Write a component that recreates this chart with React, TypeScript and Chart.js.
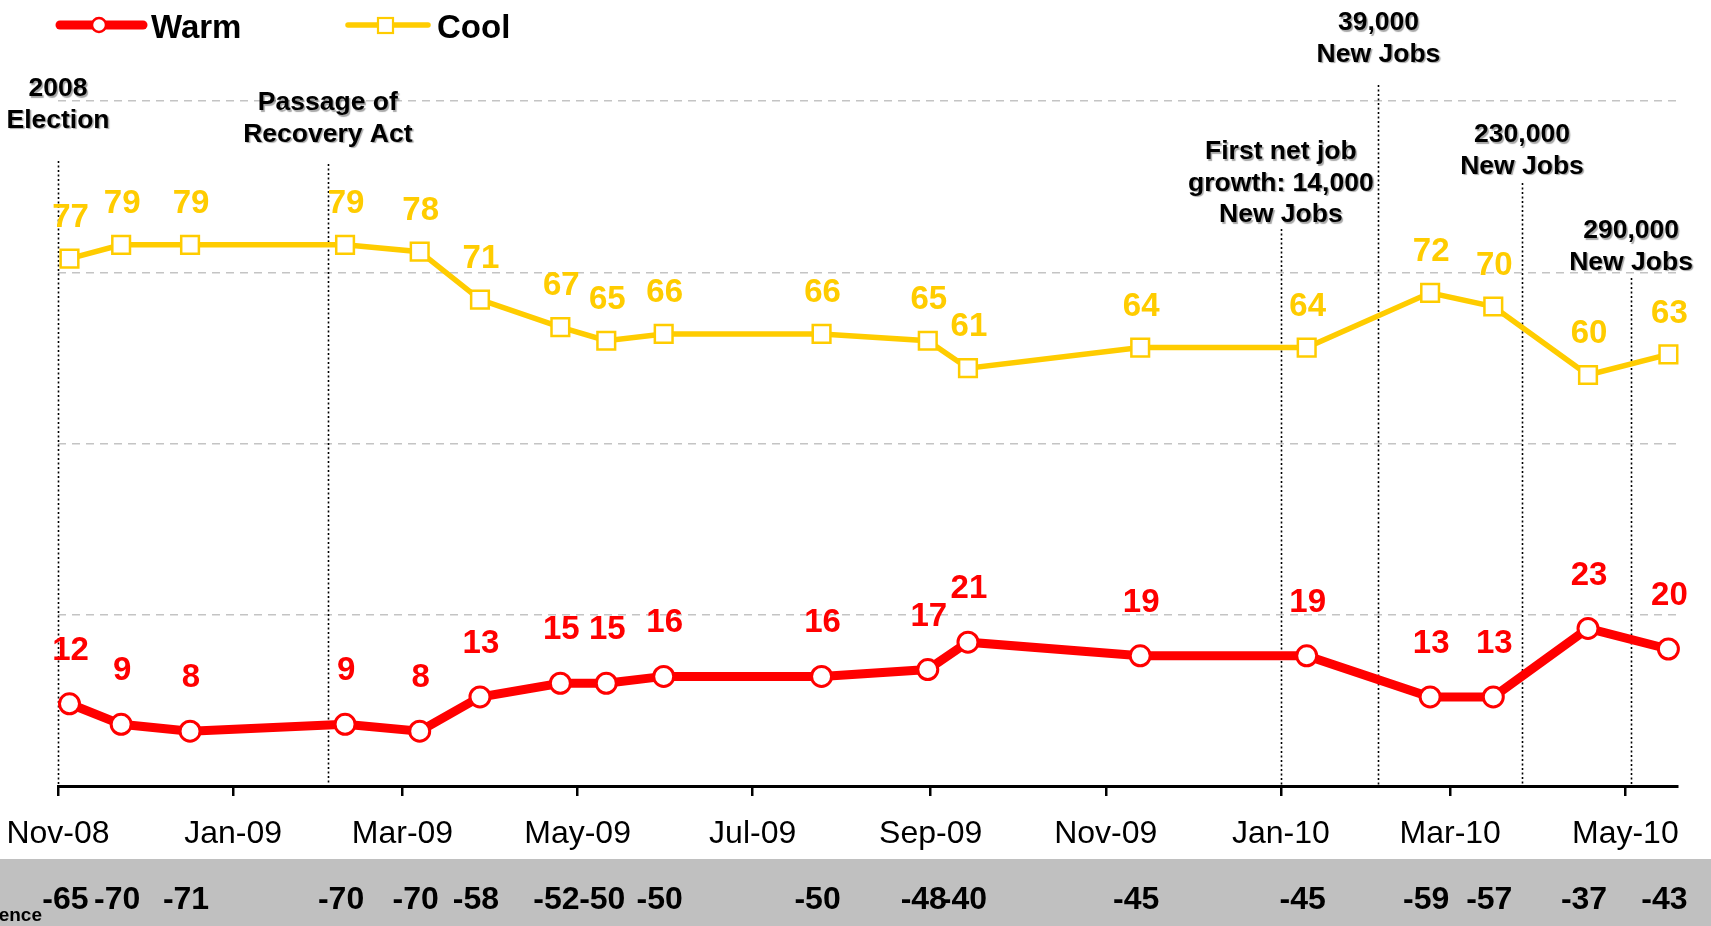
import React, { useEffect, useRef } from "react";
import { Chart, registerables } from "chart.js";

Chart.register(...registerables);

// ---------- data ----------
const POLL_DATES = [
  "2008-11-05", "2008-11-23", "2008-12-17", "2009-02-09", "2009-03-07", "2009-03-28",
  "2009-04-25", "2009-05-11", "2009-05-31", "2009-07-25", "2009-08-31", "2009-09-14",
  "2009-11-13", "2010-01-10", "2010-02-22", "2010-03-16", "2010-04-18", "2010-05-16",
];
const WARM = [12, 9, 8, 9, 8, 13, 15, 15, 16, 16, 17, 21, 19, 19, 13, 13, 23, 20];
const COOL = [77, 79, 79, 79, 78, 71, 67, 65, 66, 66, 65, 61, 64, 64, 72, 70, 60, 63];
const NET = [-65, -70, -71, -70, -70, -58, -52, -50, -50, -50, -48, -40, -45, -45, -59, -57, -37, -43];

const TICK_DATES = [
  "2008-11-01", "2009-01-01", "2009-03-01", "2009-05-01", "2009-07-01",
  "2009-09-01", "2009-11-01", "2010-01-01", "2010-03-01", "2010-05-01",
];
const TICK_LABELS = ["Nov-08", "Jan-09", "Mar-09", "May-09", "Jul-09", "Sep-09", "Nov-09", "Jan-10", "Mar-10", "May-10"];
const AXIS_START = "2008-11-01";
const AXIS_END = "2010-05-19";

const EVENT_DATES = ["2008-11-01", "2009-02-03", "2010-01-01", "2010-02-04", "2010-03-26", "2010-05-03"];
const EVENT_TEXTS = [
  ["2008", "Election"],
  ["Passage of", "Recovery Act"],
  ["First net job", "growth: 14,000", "New Jobs"],
  ["39,000", "New Jobs"],
  ["230,000", "New Jobs"],
  ["290,000", "New Jobs"],
];
const NET_LABEL = "Difference";

// ---------- layout / style (pixels) ----------
const W = 1711;
const H = 926;
const FONT = "'Liberation Sans', Arial, Helvetica, sans-serif";
const RED = "#ff0000";
const GOLD = "#ffcc00";
const EVENT_TEXT_Y = [89, 103, 152, 23, 135, 231];
const EVENT_LINE_TOP = [161, 164, 229, 85, 183, 278];
const EVENT_LINE_H = 31.5;
const LABEL_OFFSET = [53, 41];
const BAND_TOP = 859;
const NET_Y = 900;

const dayNum = (s: string) => {
  const [y, m, d] = s.split("-").map(Number);
  return Date.UTC(y, m - 1, d) / 86400000;
};

const bandPlugin = {
  id: "band",
  beforeDraw(chart: any) {
    const ctx = chart.ctx;
    ctx.save();
    ctx.fillStyle = "#ffffff";
    ctx.fillRect(0, 0, W, H);
    ctx.fillStyle = "#c0c0c0";
    ctx.fillRect(0, BAND_TOP, W, H - BAND_TOP);
    ctx.restore();
  },
};

const eventPlugin = {
  id: "events",
  beforeDatasetsDraw(chart: any) {
    const ctx = chart.ctx;
    const xs = chart.scales.x;
    const bottom = chart.chartArea.bottom;
    ctx.save();
    ctx.strokeStyle = "#000";
    ctx.lineWidth = 1.6;
    ctx.setLineDash([2, 2.5]);
    EVENT_DATES.forEach((d, i) => {
      const x = Math.round(xs.getPixelForValue(dayNum(d))) + 0.5;
      ctx.beginPath();
      ctx.moveTo(x, EVENT_LINE_TOP[i]);
      ctx.lineTo(x, bottom);
      ctx.stroke();
    });
    ctx.restore();
  },
  afterDraw(chart: any) {
    const ctx = chart.ctx;
    const xs = chart.scales.x;
    ctx.save();
    ctx.font = `bold 26.5px ${FONT}`;
    ctx.textAlign = "center";
    ctx.textBaseline = "middle";
    ctx.fillStyle = "#000";
    ctx.shadowColor = "rgba(0,0,0,0.35)";
    ctx.shadowOffsetX = 1.5;
    ctx.shadowOffsetY = 1.5;
    ctx.shadowBlur = 1;
    EVENT_TEXTS.forEach((lines, i) => {
      const x = xs.getPixelForValue(dayNum(EVENT_DATES[i]));
      lines.forEach((t, j) => ctx.fillText(t, x, EVENT_TEXT_Y[i] + j * EVENT_LINE_H));
    });
    ctx.restore();
  },
};

const labelPlugin = {
  id: "pointLabels",
  afterDatasetsDraw(chart: any) {
    const ctx = chart.ctx;
    chart.data.datasets.forEach((ds: any, di: number) => {
      const meta = chart.getDatasetMeta(di);
      ctx.save();
      ctx.font = `bold 33px ${FONT}`;
      ctx.fillStyle = ds.borderColor;
      ctx.textAlign = "center";
      ctx.textBaseline = "middle";
      meta.data.forEach((pt: any, i: number) => {
        ctx.fillText(String(ds.data[i].y), pt.x + 1, pt.y - LABEL_OFFSET[di]);
      });
      ctx.restore();
    });
  },
};

const netPlugin = {
  id: "net",
  afterDraw(chart: any) {
    const ctx = chart.ctx;
    const xs = chart.scales.x;
    ctx.save();
    ctx.fillStyle = "#000";
    ctx.font = `bold 32px ${FONT}`;
    ctx.textAlign = "center";
    ctx.textBaseline = "middle";
    NET.forEach((v, i) => {
      const x = xs.getPixelForValue(dayNum(POLL_DATES[i]));
      ctx.fillText(String(v), x - 4, NET_Y);
    });
    ctx.font = `bold 19px ${FONT}`;
    ctx.textAlign = "right";
    ctx.fillText(NET_LABEL, 42, 916);
    ctx.restore();
  },
};

const legendPlugin = {
  id: "customLegend",
  afterDraw(chart: any) {
    const ctx = chart.ctx;
    ctx.save();
    // Warm
    ctx.strokeStyle = RED;
    ctx.lineWidth = 9;
    ctx.lineCap = "round";
    ctx.beginPath();
    ctx.moveTo(60, 25);
    ctx.lineTo(143, 25);
    ctx.stroke();
    ctx.beginPath();
    ctx.arc(99, 25, 7, 0, Math.PI * 2);
    ctx.fillStyle = "#fff";
    ctx.fill();
    ctx.lineWidth = 2.5;
    ctx.stroke();
    // Cool
    ctx.strokeStyle = GOLD;
    ctx.lineWidth = 5.5;
    ctx.beginPath();
    ctx.moveTo(348, 25);
    ctx.lineTo(428, 25);
    ctx.stroke();
    ctx.fillStyle = "#fff";
    ctx.fillRect(378, 18, 15, 15);
    ctx.lineWidth = 2.2;
    ctx.lineCap = "butt";
    ctx.strokeRect(378, 18, 15, 15);
    // texts
    ctx.fillStyle = "#000";
    ctx.font = `bold 33px ${FONT}`;
    ctx.textAlign = "left";
    ctx.textBaseline = "middle";
    ctx.fillText("Warm", 151, 29);
    ctx.fillText("Cool", 437, 29);
    ctx.restore();
  },
};

export default function App() {
  const ref = useRef<HTMLCanvasElement | null>(null);

  useEffect(() => {
    if (!ref.current) return;
    const tickValues = TICK_DATES.map(dayNum);
    const chart = new Chart(ref.current, {
      type: "line",
      data: {
        datasets: [
          {
            label: "Warm",
            data: POLL_DATES.map((d, i) => ({ x: dayNum(d), y: WARM[i] })),
            borderColor: RED,
            backgroundColor: RED,
            borderWidth: 9,
            pointStyle: "circle",
            pointRadius: 10,
            pointBorderWidth: 3,
            pointBackgroundColor: "#ffffff",
            pointBorderColor: RED,
            tension: 0,
          },
          {
            label: "Cool",
            data: POLL_DATES.map((d, i) => ({ x: dayNum(d), y: COOL[i] })),
            borderColor: GOLD,
            backgroundColor: GOLD,
            borderWidth: 5.5,
            pointStyle: "rect",
            pointRadius: 12.5,
            pointBorderWidth: 2.5,
            pointBackgroundColor: "#ffffff",
            pointBorderColor: GOLD,
            tension: 0,
          },
        ],
      },
      options: {
        animation: false,
        responsive: false,
        devicePixelRatio: 1,
        clip: false as any,
        layout: { padding: { left: 58, right: 34, top: 101, bottom: 0 } },
        plugins: {
          legend: { display: false },
          tooltip: { enabled: false },
        },
        scales: {
          x: {
            type: "linear",
            min: dayNum(AXIS_START),
            max: dayNum(AXIS_END),
            afterBuildTicks: (scale: any) => {
              scale.ticks = tickValues.map((v) => ({ value: v }));
            },
            afterFit: (scale: any) => {
              scale.height = H - 786;
              scale.paddingLeft = 0;
              scale.paddingRight = 0;
            },
            ticks: {
              autoSkip: false,
              maxRotation: 0,
              minRotation: 0,
              padding: 19,
              color: "#000",
              font: { family: FONT, size: 32 },
              callback: (_v: any, i: number) => TICK_LABELS[i] ?? "",
            },
            grid: {
              drawOnChartArea: false,
              drawTicks: true,
              tickLength: 10,
              color: "#000",
              lineWidth: 2.5,
            },
            border: { display: true, color: "#000", width: 3 },
          },
          y: {
            min: 0,
            max: 100,
            afterBuildTicks: (scale: any) => {
              scale.ticks = [0, 25, 50, 75, 100].map((v) => ({ value: v }));
            },
            afterFit: (scale: any) => {
              scale.width = 0;
            },
            ticks: { display: false },
            grid: { color: "#c4c4c4", lineWidth: 1.5, drawTicks: false },
            border: { display: false, dash: [8, 6] },
          },
        },
      },
      plugins: [bandPlugin, eventPlugin, labelPlugin, netPlugin, legendPlugin],
    });
    return () => chart.destroy();
  }, []);

  return (
    <div style={{ position: "fixed", left: 0, top: 0, width: W, height: H, background: "#fff" }}>
      <canvas ref={ref} width={W} height={H} style={{ display: "block", width: W, height: H }} />
    </div>
  );
}
